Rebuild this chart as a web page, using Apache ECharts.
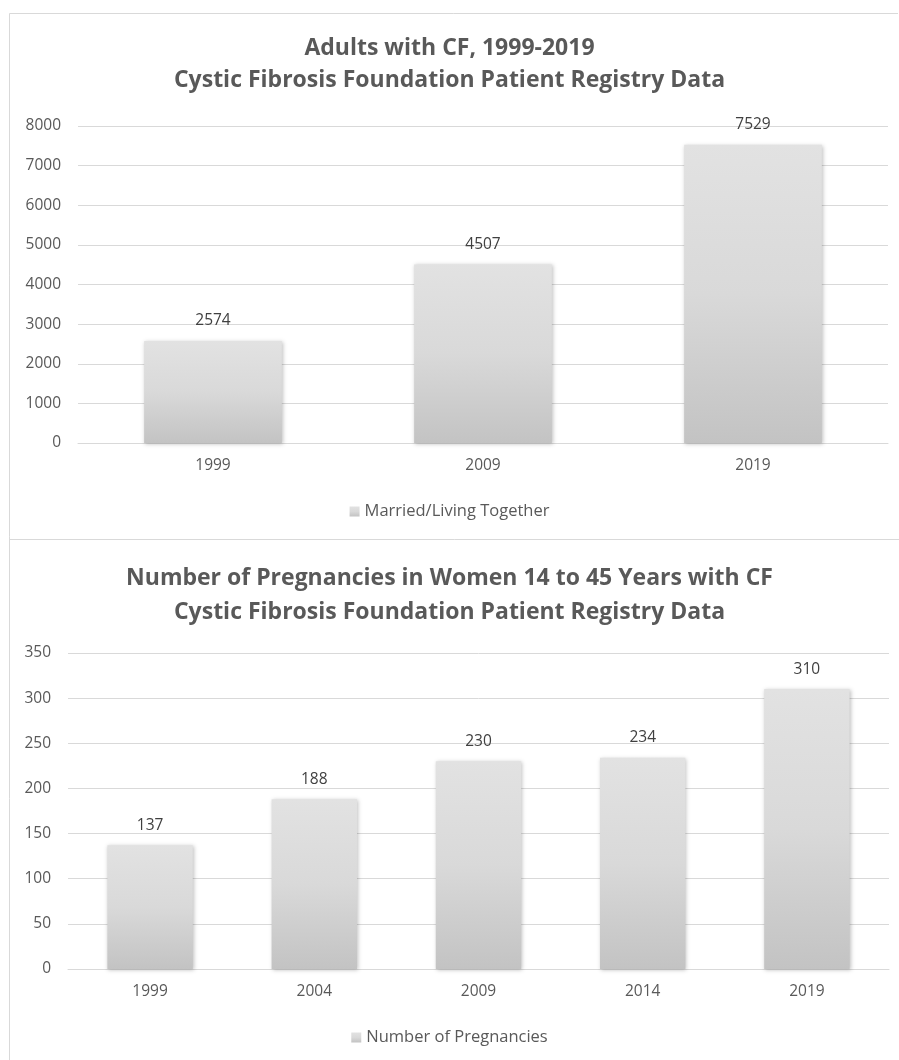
<!DOCTYPE html>
<html>
<head>
<meta charset="utf-8">
<script src="https://cdn.jsdelivr.net/npm/echarts@6/dist/echarts.min.js"></script>
<style>
  html, body { margin: 0; padding: 0; background: #fff; }
  #chart { width: 899px; height: 1060px; }
</style>
</head>
<body>
<div id="chart"></div>
<script>
// top chart: adults married / living together
const adultYears = ["1999", "2009", "2019"];
const adultValues = [2574, 4507, 7529];
const adultTicks = [0, 1000, 2000, 3000, 4000, 5000, 6000, 7000, 8000];

// bottom chart: pregnancies
const pregYears = ["1999", "2004", "2009", "2014", "2019"];
const pregValues = [137, 188, 230, 234, 310];
const pregTicks = [0, 50, 100, 150, 200, 250, 300, 350];

const textColor = "#595959";
const font = "'Open Sans', 'Liberation Sans', sans-serif";

const barFill = new echarts.graphic.LinearGradient(0, 0, 0, 1, [
  { offset: 0, color: "#e2e2e2" },
  { offset: 0.5, color: "#d9d9d9" },
  { offset: 1, color: "#c3c3c3" },
]);

const chart = echarts.init(document.getElementById("chart"));

const yAxisBase = (gridIndex, ticks) => ({
  type: "value",
  gridIndex: gridIndex,
  min: ticks[0],
  max: ticks[ticks.length - 1],
  interval: ticks[1] - ticks[0],
  axisLine: { show: false },
  axisTick: { show: false },
  axisLabel: {
    color: textColor,
    fontFamily: font,
    fontSize: 15.5,
    margin: 17,
    formatter: (v) => String(v),
  },
  splitLine: { lineStyle: { color: "#d9d9d9", width: 1 } },
});

const xAxisBase = (gridIndex, data) => ({
  type: "category",
  gridIndex: gridIndex,
  data: data,
  axisLine: { lineStyle: { color: "#d9d9d9" } },
  axisTick: { show: false },
  axisLabel: { color: textColor, fontFamily: font, fontSize: 15.5, margin: 15 },
});

const barSeries = (name, idx, data, gap) => ({
  name: name,
  type: "bar",
  xAxisIndex: idx,
  yAxisIndex: idx,
  data: data,
  barCategoryGap: gap,
  itemStyle: {
    color: barFill,
    shadowColor: "rgba(0,0,0,0.25)",
    shadowBlur: 4,
    shadowOffsetX: 1,
    shadowOffsetY: 1,
  },
  label: {
    show: true,
    position: "top",
    distance: 12,
    color: "#404040",
    fontFamily: font,
    fontSize: 15.5,
  },
});

chart.setOption({
  backgroundColor: "#fff",
  animation: false,
  title: [
    {
      text: "Adults with CF, 1999-2019\nCystic Fibrosis Foundation Patient Registry Data",
      left: "center",
      top: 27,
      textStyle: {
        color: textColor,
        fontFamily: font,
        fontWeight: "bold",
        fontSize: 23,
        lineHeight: 32,
      },
    },
    {
      text: "Number of Pregnancies in Women 14 to 45 Years with CF\nCystic Fibrosis Foundation Patient Registry Data",
      left: "center",
      top: 556,
      textStyle: {
        color: textColor,
        fontFamily: font,
        fontWeight: "bold",
        fontSize: 23,
        lineHeight: 34,
      },
    },
  ],
  legend: [
    {
      data: ["Married/Living Together"],
      top: 498,
      left: "center",
      itemWidth: 10,
      itemHeight: 10,
      itemGap: 6,
      icon: "rect",
      textStyle: { color: textColor, fontFamily: font, fontSize: 16.5 },
    },
    {
      data: ["Number of Pregnancies"],
      top: 1024,
      left: "center",
      itemWidth: 10,
      itemHeight: 10,
      icon: "rect",
      textStyle: { color: textColor, fontFamily: font, fontSize: 16.5 },
    },
  ],
  grid: [
    { left: 78, right: 11, top: 126, height: 317 },
    { left: 68, right: 10, top: 653, height: 316 },
  ],
  xAxis: [xAxisBase(0, adultYears), xAxisBase(1, pregYears)],
  yAxis: [yAxisBase(0, adultTicks), yAxisBase(1, pregTicks)],
  series: [
    barSeries("Married/Living Together", 0, adultValues, "49%"),
    barSeries("Number of Pregnancies", 1, pregValues, "48%"),
  ],
  graphic: [
    {
      type: "polyline",
      shape: { points: [[9.5, 1060], [9.5, 13.5], [898, 13.5]] },
      style: { stroke: "#d9d9d9", lineWidth: 1, fill: null },
      silent: true,
    },
    {
      type: "line",
      shape: { x1: 9.5, y1: 539.5, x2: 899, y2: 539.5 },
      style: { stroke: "#d9d9d9", lineWidth: 1 },
      silent: true,
    },
  ],
});
</script>
</body>
</html>
